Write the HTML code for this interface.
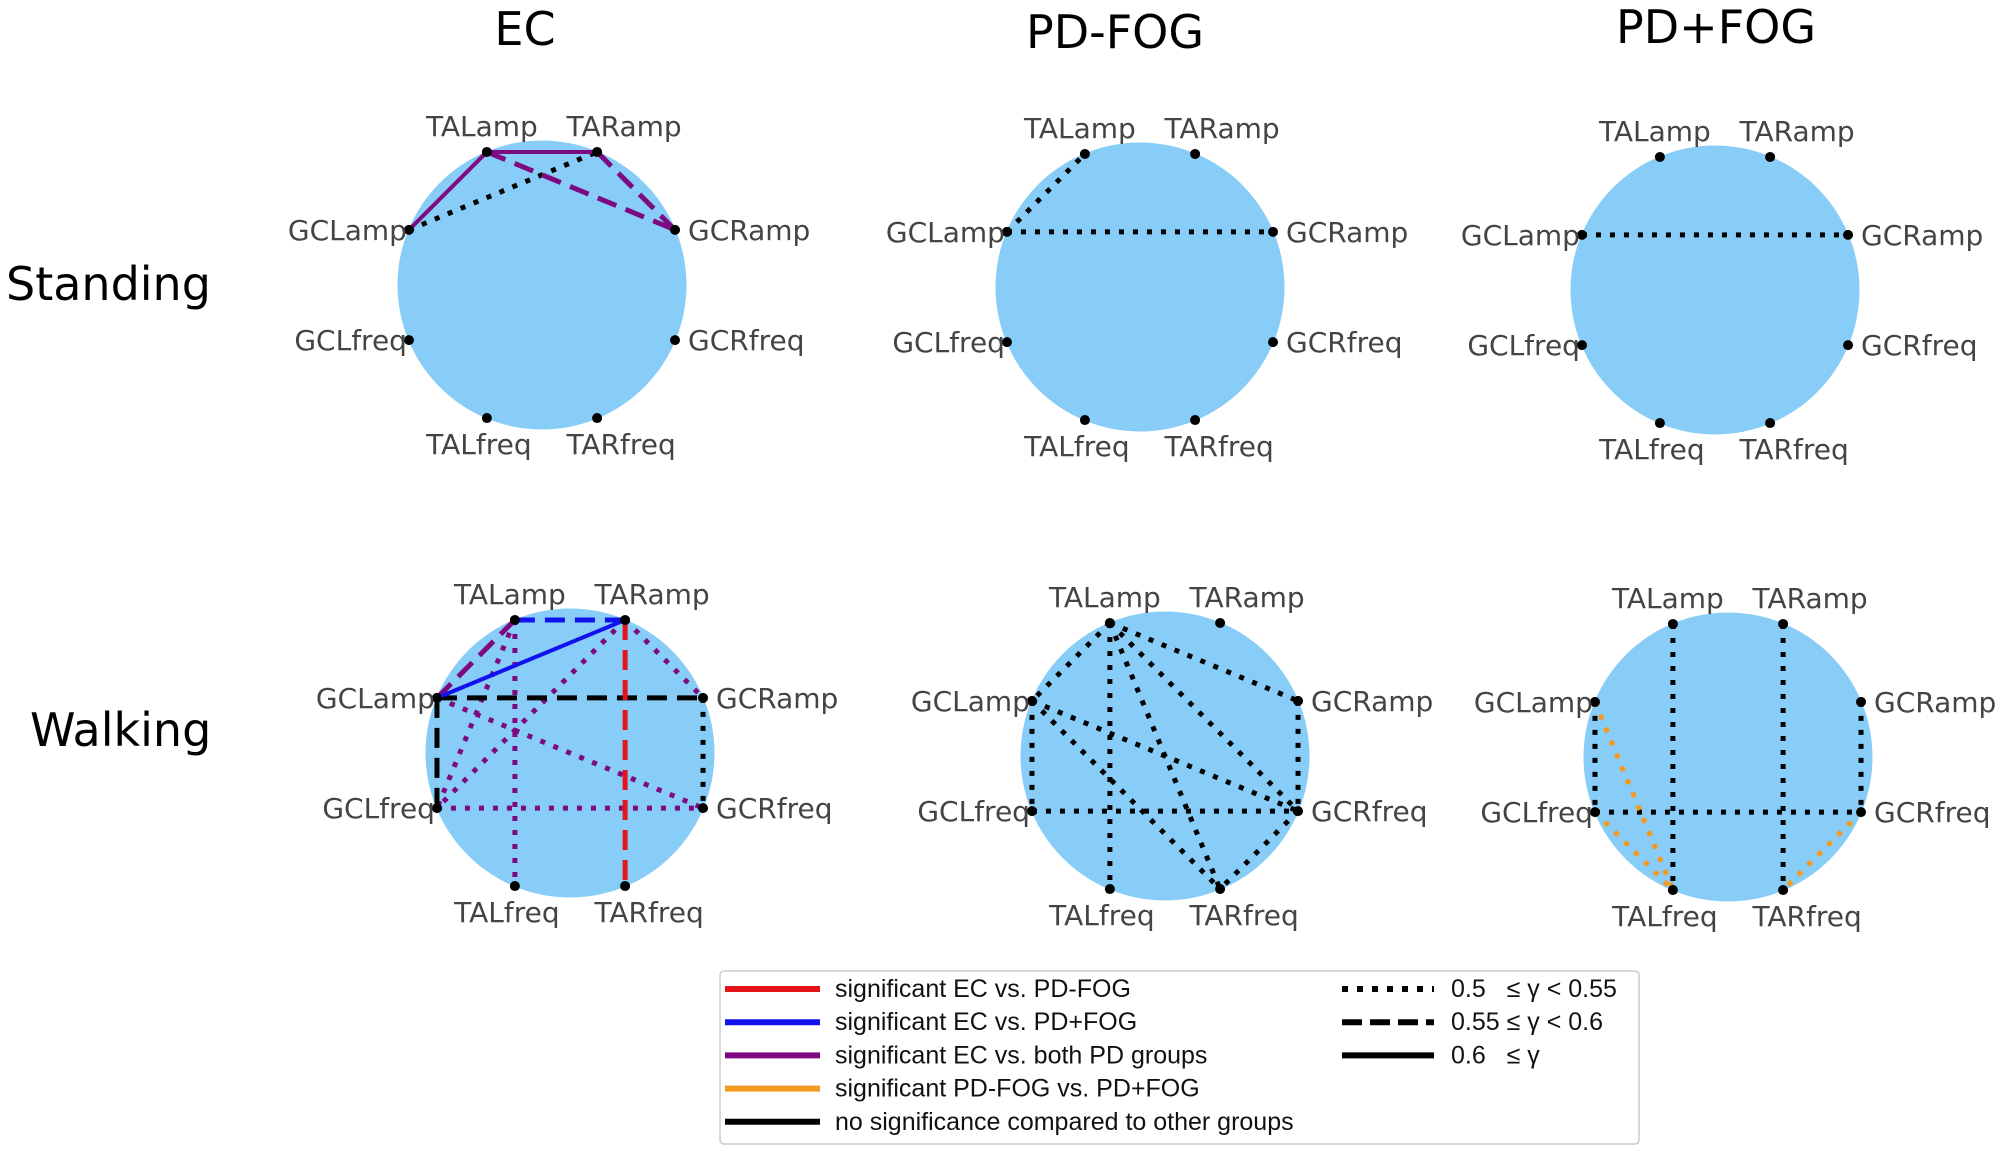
<!DOCTYPE html>
<html><head><meta charset="utf-8"><style>
html,body{margin:0;padding:0;background:#fff;}
svg{display:block;font-family:"DejaVu Sans","Liberation Sans",sans-serif;}
</style></head><body>
<svg id="fig" width="2008" height="1155" viewBox="0 0 2008 1155">
<g id="titles">
<text x="525" y="45" font-size="46" text-anchor="middle">EC</text>
<text x="1115" y="48" font-size="46" text-anchor="middle">PD-FOG</text>
<text x="1716" y="43" font-size="46" text-anchor="middle">PD+FOG</text>
<text x="6" y="300" font-size="46">Standing</text>
<text x="30" y="746" font-size="46">Walking</text>
</g>
<g id="panels"></g>
<g id="legend">
<rect x="720" y="971" width="919" height="173" fill="#fff" stroke="#ccc" stroke-width="1.5" rx="4"/>
</g>
</svg>
<script>
const nodeNames = ["TALamp","TARamp","GCRamp","GCRfreq","TARfreq","TALfreq","GCLfreq","GCLamp"];
const nodeAngles = [-112.5,-67.5,-22.5,22.5,67.5,112.5,157.5,202.5];
const panelNames = ["ec-standing","pdfog-standing","pdplusfog-standing","ec-walking","pdfog-walking","pdplusfog-walking"];
const panelCx = [542,1140,1715,570,1165,1728];
const panelCy = [285,287,290,753,756,757];
// edges: [from, to, colorKey, styleKey]
const edgesEcStanding = [["GCLamp","TARamp","k","dot"],["TALamp","TARamp","p","solid"],["GCLamp","TALamp","p","solid"],["TALamp","GCRamp","p","dash"],["TARamp","GCRamp","p","dash"]];
const edgesPdfogStanding = [["GCLamp","TALamp","k","dot"],["GCLamp","GCRamp","k","dot"]];
const edgesPdplusStanding = [["GCLamp","GCRamp","k","dot"]];
const edgesEcWalking = [["TALamp","TALfreq","p","dot"],["TARamp","GCRamp","p","dot"],["TARamp","GCLfreq","p","dot"],["TALamp","GCLfreq","p","dot"],["GCLamp","GCRfreq","p","dot"],["GCLfreq","GCRfreq","p","dot"],["GCRamp","GCRfreq","k","dot"],["GCLamp","GCRamp","k","dash"],["GCLamp","GCLfreq","k","dash"],["GCLamp","TALamp","p","dash"],["TARamp","TARfreq","r","dash"],["TALamp","TARamp","b","dash"],["GCLamp","TARamp","b","solid"]];
const edgesPdfogWalking = [["TALamp","GCLamp","k","dot"],["TALamp","TALfreq","k","dot"],["TALamp","GCRamp","k","dot"],["TALamp","GCRfreq","k","dot"],["TALamp","TARfreq","k","dot"],["GCLamp","GCLfreq","k","dot"],["GCLfreq","GCRfreq","k","dot"],["GCLamp","GCRfreq","k","dot"],["GCLamp","TARfreq","k","dot"],["GCRamp","GCRfreq","k","dot"],["GCRfreq","TARfreq","k","dot"]];
const edgesPdplusWalking = [["TALamp","TALfreq","k","dot"],["TARamp","TARfreq","k","dot"],["GCRamp","GCRfreq","k","dot"],["GCLamp","GCLfreq","k","dot"],["GCLfreq","GCRfreq","k","dot"],["GCLamp","TALfreq","o","dot"],["GCLfreq","TALfreq","o","dot"],["GCRfreq","TARfreq","o","dot"]];
const panelEdges = [edgesEcStanding,edgesPdfogStanding,edgesPdplusStanding,edgesEcWalking,edgesPdfogWalking,edgesPdplusWalking];
const legendColorLabels = ["significant EC vs. PD-FOG","significant EC vs. PD+FOG","significant EC vs. both PD groups","significant PD-FOG vs. PD+FOG","no significance compared to other groups"];
const legendColorKeys = ["r","b","p","o","k"];
const legendStyleLabels = ["0.5\u00a0\u00a0\u00a0\u2264 \u03b3 < 0.55","0.55 \u2264 \u03b3 < 0.6","0.6\u00a0\u00a0\u00a0\u2264 \u03b3"];
const legendStyleKeys = ["dot","dash","solid"];

const COLORS = {r:"#e3151a",b:"#1212ee",p:"#7d0a80",o:"#f39a1e",k:"#000"};
const STYLES = {dot:{w:5,da:"5 9"},dash:{w:5,da:"20 10"},solid:{w:4,da:""}};
const R = 144, NS = "http://www.w3.org/2000/svg";
const panels = document.getElementById("panels");
function mk(tag, attrs, parent){const e=document.createElementNS(NS,tag);for(const k in attrs)e.setAttribute(k,attrs[k]);parent.appendChild(e);return e;}
function nodePos(p,name){const a=nodeAngles[nodeNames.indexOf(name)]*Math.PI/180;return [panelCx[p]+R*Math.cos(a),panelCy[p]+R*Math.sin(a)];}

panelNames.forEach((pn,p)=>{
  const g=mk("g",{},panels);
  
  
  const c=mk("circle",{cx:panelCx[p],cy:panelCy[p],r:R+0.5,fill:"#87cdf7"},g);
  
  
  panelEdges[p].forEach(e=>{
    const a=nodePos(p,e[0]),b=nodePos(p,e[1]),st=STYLES[e[3]];
    const l=mk("line",{x1:a[0],y1:a[1],x2:b[0],y2:b[1],stroke:COLORS[e[2]],"stroke-width":st.w},g);
    if(st.da)l.setAttribute("stroke-dasharray",st.da);
    
    
  });
  nodeNames.forEach((n,i)=>{
    const q=nodePos(p,n);
    const d=mk("circle",{cx:q[0],cy:q[1],r:5,fill:"#000"},g);
    
    
    let x=q[0],y=q[1],anc="middle";
    if(n==="TALamp"){x-=5;y-=16;}
    else if(n==="TARamp"){x+=27;y-=16;}
    else if(n==="TALfreq"){x-=8;y+=36;}
    else if(n==="TARfreq"){x+=24;y+=36;}
    else if(n.startsWith("GCL")){anc="end";x-=2;y+=10;}
    else {anc="start";x+=13;y+=10;}
    const t=mk("text",{x:x,y:y,"text-anchor":anc,"font-size":28,fill:"#444"},g);
    t.textContent=n;
    
    
  });
});

const lg=document.getElementById("legend");
legendColorLabels.forEach((lab,i)=>{
  const y=989+i*33.2;
  const l=mk("line",{x1:725,y1:y,x2:820,y2:y,stroke:COLORS[legendColorKeys[i]],"stroke-width":6},lg);
  
  
  const t=mk("text",{x:835,y:y+8,"font-size":25,fill:"#111","font-family":"Liberation Sans, sans-serif"},lg);
  t.textContent=lab;
  
  
});
legendStyleLabels.forEach((lab,i)=>{
  const y=989+i*33.2, st=STYLES[legendStyleKeys[i]];
  const l=mk("line",{x1:1342,y1:y,x2:1434,y2:y,stroke:"#000","stroke-width":6},lg);
  if(st.da)l.setAttribute("stroke-dasharray",legendStyleKeys[i]==="dot"?"6 9":"20 8");
  
  
  const t=mk("text",{x:1451,y:y+8,"font-size":25,fill:"#111","font-family":"Liberation Sans, sans-serif"},lg);
  t.textContent=lab;
  
  
});
</script>
</body></html>
